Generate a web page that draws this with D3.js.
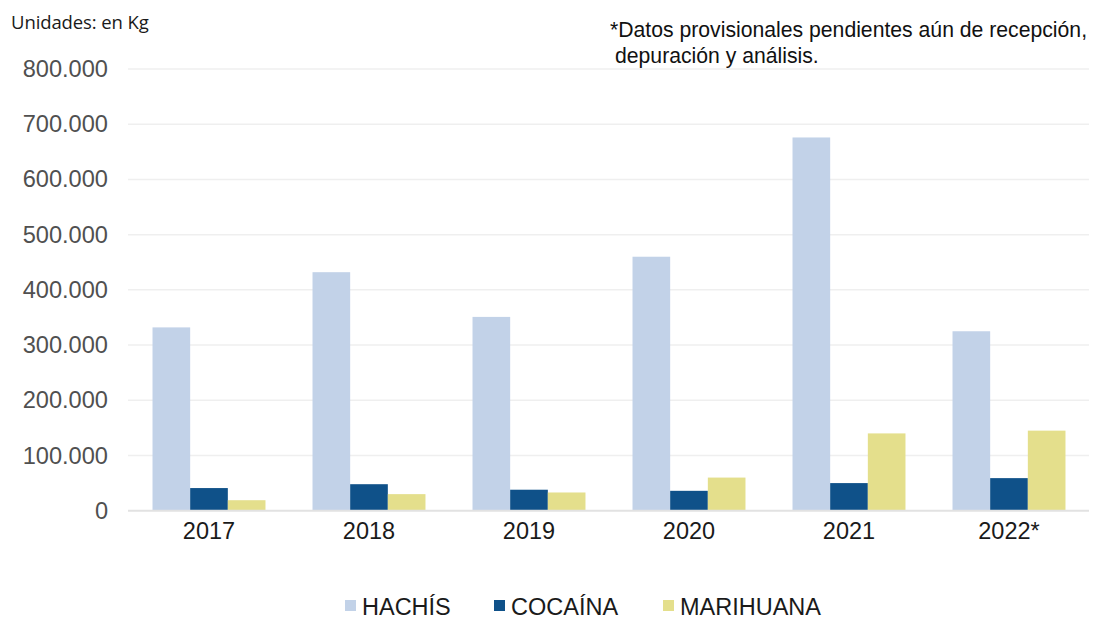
<!DOCTYPE html>
<html><head><meta charset="utf-8">
<script src="https://cdn.jsdelivr.net/npm/d3@7"></script>
<style>body{margin:0;background:#fff}svg{display:block}</style>
</head><body>
<svg id="c" width="1093" height="622"></svg>
<script>
const categories = ["2017","2018","2019","2020","2021","2022*"];
const seriesNames = ["HACHÍS","COCAÍNA","MARIHUANA"];
const hachis    = [332000, 432000, 351000, 460000, 676000, 325000];
const cocaina   = [41000, 48000, 38000, 36000, 50000, 59000];
const marihuana = [19000, 30000, 33000, 60000, 140000, 145000];
const yTicks = [0,100000,200000,300000,400000,500000,600000,700000,800000];
const colors = ["#c2d2e8","#0f5189","#e4df8c"];
const seriesValues = [hachis, cocaina, marihuana];

const svg = d3.select("#c");
const pLeft = 129, pRight = 1089, pTop = 69, pBottom = 510.7;

const x = d3.scaleBand().domain(categories).range([pLeft,pRight]).paddingInner(0.294).paddingOuter(0.147);
const xs = d3.scaleBand().domain(seriesNames).range([0, x.bandwidth()]);
const y = d3.scaleLinear().domain([0,800000]).range([pBottom, pTop]);

const fmt = v => d3.format(",")(v).replace(/,/g,".");

// gridlines
svg.append("g").selectAll("line").data(yTicks.filter(d=>d>0)).join("line")
  .attr("x1",pLeft-1).attr("x2",pRight).attr("y1",d=>y(d)).attr("y2",d=>y(d))
  .attr("stroke","#efefef").attr("stroke-width",1.5);

// y axis labels
const ya = svg.append("g").attr("transform",`translate(${pLeft},0)`)
  .call(d3.axisLeft(y).tickValues(yTicks).tickFormat(fmt).tickSize(0).tickPadding(21));
ya.select(".domain").remove();
ya.selectAll("text").attr("font-family","Liberation Sans, Arial, sans-serif").attr("font-size",23.6).attr("fill","#505050");

// bars
const rows = categories.map((c,i)=>({c, vals: seriesNames.map((s,j)=>({s, v: seriesValues[j][i], j}))}));
svg.append("g").selectAll("g").data(rows).join("g")
  .attr("transform",d=>`translate(${x(d.c)},0)`)
  .selectAll("rect").data(d=>d.vals).join("rect")
  .attr("x",d=>xs(d.s)).attr("width",xs.bandwidth())
  .attr("y",d=>y(d.v)).attr("height",d=>y(0)-y(d.v))
  .attr("fill",d=>colors[d.j]);

// baseline
svg.append("line").attr("x1",pLeft-1).attr("x2",pRight).attr("y1",y(0)).attr("y2",y(0))
  .attr("stroke","#e2e2e2").attr("stroke-width",2);

// x axis
const xa = svg.append("g").attr("transform",`translate(0,${y(0)})`)
  .call(d3.axisBottom(x).tickSize(0).tickPadding(12));
xa.select(".domain").remove();
xa.selectAll("text").attr("font-family","Liberation Sans, Arial, sans-serif").attr("font-size",23.5).attr("fill","#1a1a1a");

// units
svg.append("text").attr("x",11).attr("y",29).text("Unidades: en Kg")
  .attr("font-family","Open Sans, sans-serif").attr("font-size",18.5).attr("letter-spacing",-0.1).attr("fill","#1a1a1a");

// footnote
const fn = svg.append("text").attr("font-family","Liberation Sans, Arial, sans-serif").attr("font-size",21.2).attr("fill","#111");
fn.append("tspan").attr("x",610).attr("y",37).text("*Datos provisionales pendientes aún de recepción,");
fn.append("tspan").attr("x",615).attr("y",63).text("depuración y análisis.");

// legend
const legX = [345, 494, 663];
const lg = svg.append("g").selectAll("g").data(seriesNames).join("g")
  .attr("transform",(d,i)=>`translate(${legX[i]},0)`);
lg.append("rect").attr("x",0).attr("y",600).attr("width",11).attr("height",11).attr("fill",(d,i)=>colors[i]);
lg.append("text").attr("x",17).attr("y",615).text(d=>d)
  .attr("font-family","Liberation Sans, Arial, sans-serif").attr("font-size",23.5).attr("fill","#1a1a1a");
</script>
</body></html>
